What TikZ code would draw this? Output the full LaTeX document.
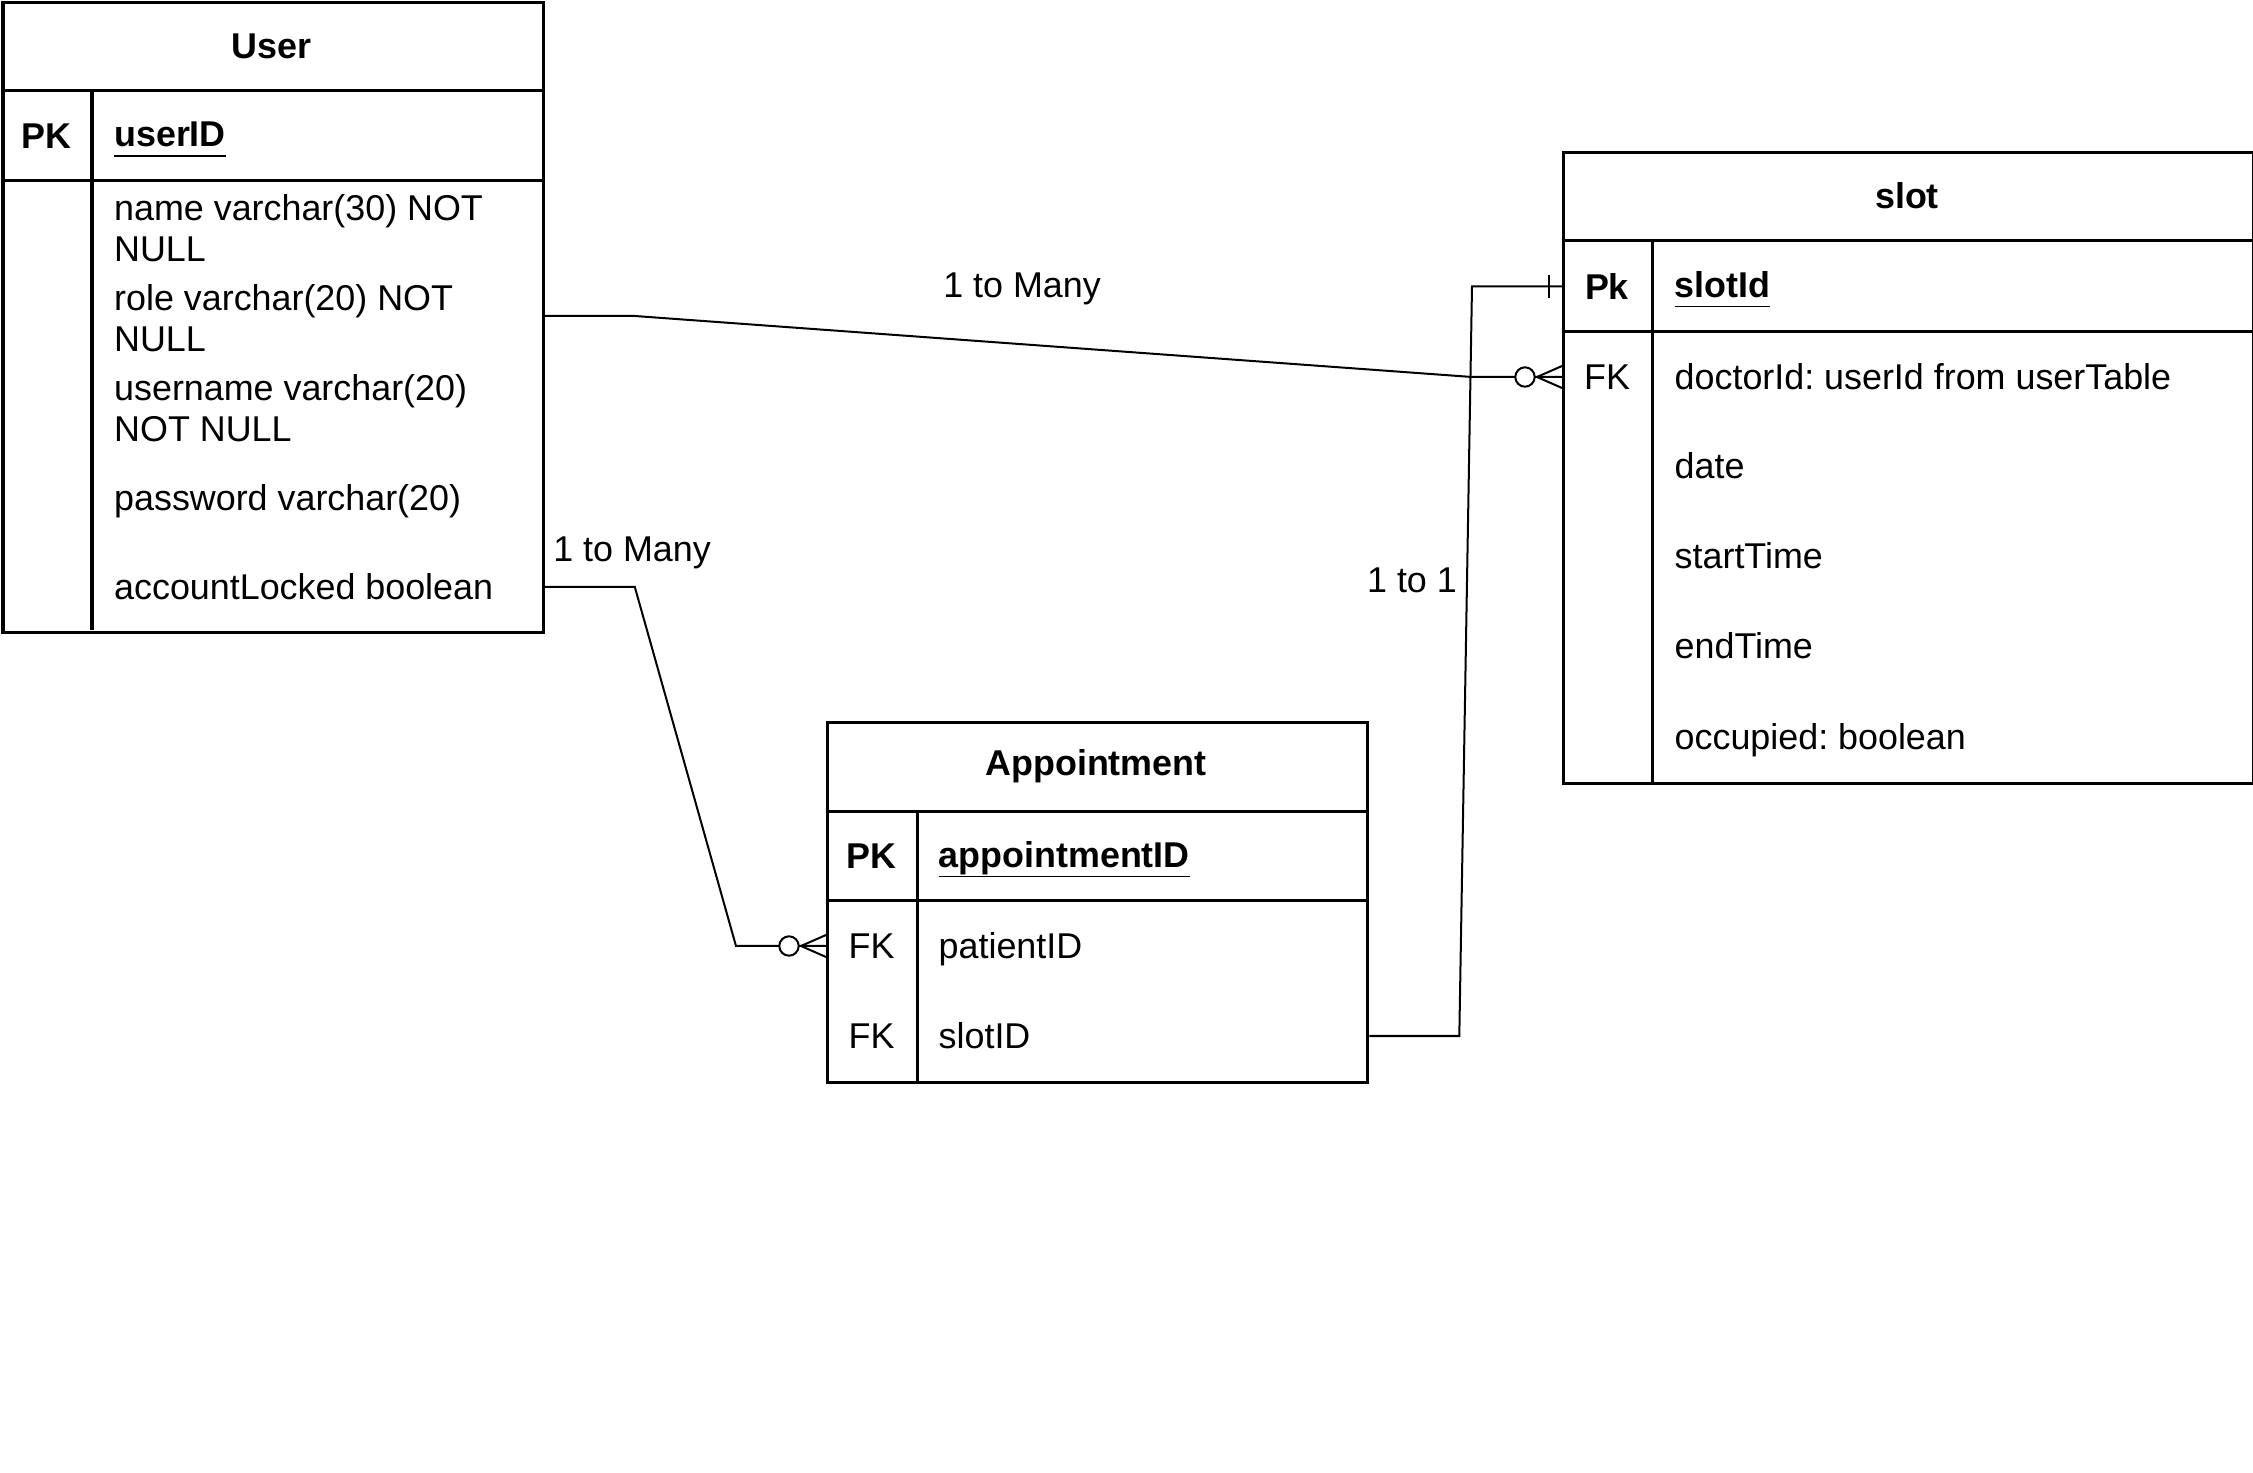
\documentclass[tikz,border=0pt]{standalone}
\usepackage{fontspec}
\setmainfont{Liberation Sans}
\usetikzlibrary{calc,positioning}
\frenchspacing
\newcommand{\erfont}{\fontsize{10.2pt}{11.8pt}\selectfont}
\newcommand{\keyul}[1]{\underline{\smash{#1}\rule[-1.2pt]{0pt}{8pt}}}

\begin{document}
\begin{tikzpicture}[
    x=0.01cm, y=-0.01cm,
    font=\erfont,
    tbox/.style={draw, line width=0.3mm, anchor=north west, inner sep=0},
    tline/.style={line width=0.3mm},
    conn/.style={line width=0.2mm},
    thead/.style={font=\erfont\bfseries, inner sep=0},
    keycol/.style={minimum height=0.9cm, inner sep=0},
    attr/.style={anchor=west, minimum height=0.9cm, inner sep=0, align=left},
    relabel/.style={inner sep=0},
    zeromany/.pic={
      \draw[conn] (-25,0) -- (0,-11) (-25,0) -- (0,11);
      \draw[conn,fill=white] (-37,0) circle[radius=9.7];
    },
    onebar/.pic={\draw[conn] (-13,-11.5) -- (-13,11.5);},
]
  \useasboundingbox (0,0) rectangle (2253,1473);

  % User table
  \node[tbox, minimum width=5.4cm, minimum height=6.29cm] (user) at (1.5,1.5) {};
  \draw[tline] (1.5,90.5) -- (541.5,90.5);
  \draw[tline] (1.5,181) -- (541.5,181);
  \draw[tline] (92,90.5) -- (92,630.5);
  \node[thead] (user-t) at (271.5,46) {User};
  \node[keycol,font=\erfont\bfseries] (u-pk) at (46.75,135.75) {PK};
  \node[attr] (u-id) at (113.5,140.5) {\textbf{\keyul{userID}}};
  \node[attr] (u-name) at (113.5,228) {name varchar(30) NOT\\NULL};
  \node[attr] (u-role) at (113.5,318) {role varchar(20) NOT\\NULL};
  \node[attr] (u-user) at (113.5,408) {username varchar(20)\\NOT NULL};
  \node[attr] (u-pass) at (113.5,501) {password varchar(20)};
  \node[attr] (u-lock) at (113.5,587) {accountLocked boolean};

  % slot table
  \node[tbox, minimum width=6.9cm, minimum height=6.31cm] (slot) at (1562,151) {};
  \draw[tline] (1562,241) -- (2252,241);
  \draw[tline] (1562,332) -- (2252,332);
  \draw[tline] (1652,241) -- (1652,782);
  \node[thead] (slot-t) at (1907,196) {slot};
  \node[keycol,font=\erfont\bfseries] (s-pk) at (1607,286.5) {Pk};
  \node[attr] (s-id) at (1674,291) {\textbf{\keyul{slotId}}};
  \node[keycol] (s-fk) at (1607,377) {FK};
  \node[attr] (s-doc) at (1674,377) {doctorId: userId from userTable};
  \node[attr] (s-date) at (1674,466) {date};
  \node[attr] (s-start) at (1674,556) {startTime};
  \node[attr] (s-end) at (1674,646) {endTime};
  \node[attr] (s-occ) at (1674,740) {occupied: boolean};

  % Appointment table
  \node[tbox, minimum width=5.4cm, minimum height=3.6cm] (appt) at (826,721) {};
  \draw[tline] (826,812) -- (1366,812);
  \draw[tline] (826,901) -- (1366,901);
  \draw[tline] (917,812) -- (917,1081);
  \node[thead] (appt-t) at (1096,766.5) {Appointment};
  \node[keycol,font=\erfont\bfseries] (a-pk) at (871.5,856.5) {PK};
  \node[attr] (a-id) at (938,861) {\textbf{\keyul{appointmentID}}};
  \node[keycol] (a-fk1) at (871.5,946) {FK};
  \node[attr] (a-pat) at (938,949) {patientID};
  \node[keycol] (a-fk2) at (871.5,1036) {FK};
  \node[attr] (a-slot) at (938,1036) {slotID};

  % Relations
  \draw[conn] (user.east |- 0,316) -- ++(90,0) -- ($(slot.west |- s-doc)+(-90,0)$) -- (slot.west |- s-doc);
  \pic at (slot.west |- s-doc) {zeromany};
  \draw[conn] (user.east |- u-lock) -- ++(90,0) -- ($(appt.west |- 0,946)+(-90,0)$) -- (appt.west |- 0,946);
  \pic at (appt.west |- 0,946) {zeromany};
  \draw[conn] (appt.east |- a-slot) -- ++(90,0) -- ($(slot.west |- s-pk)+(-90,0)$) -- (slot.west |- s-pk);
  \pic at (slot.west |- s-pk) {onebar};

  % Labels
  \node[relabel] (r1) at (1022,288.5) {1 to Many};
  \node[relabel] (r2) at (632,553) {1 to Many};
  \node[relabel] (r3) at (1412,580) {1 to 1};
\end{tikzpicture}
\end{document}
